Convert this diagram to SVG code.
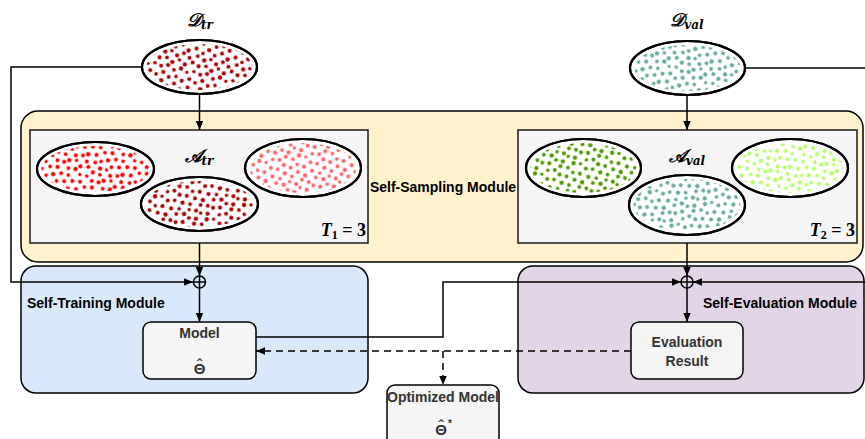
<svg xmlns="http://www.w3.org/2000/svg" xmlns:xlink="http://www.w3.org/1999/xlink" width="865" height="439" viewBox="0 0 865 439">
<style>
.mod{stroke:#000;stroke-width:1.5}
.inner{fill:#f5f5f5;stroke:#1a1a1a;stroke-width:1.5}
.box{fill:#f5f5f5;stroke:#000;stroke-width:1.5}
.lbl{font-family:"Liberation Sans",Arial,sans-serif;font-weight:bold;font-size:14px;fill:#000}
.blbl{font-family:"Liberation Sans",Arial,sans-serif;font-weight:bold;font-size:14px;fill:#333}
.theta{font-family:"Liberation Sans",Arial,sans-serif;font-weight:bold;font-size:15px;fill:#333}
.math{font-family:"DejaVu Serif","Liberation Serif",serif;font-weight:bold;font-style:italic;fill:#000}
.tmath{font-family:"Liberation Serif","DejaVu Serif",serif;font-weight:bold;font-size:18px;fill:#000}
.ell{fill:#fff;stroke:#000;stroke-width:2.2}
.conn{fill:none;stroke:#000;stroke-width:1.5}
.dash{stroke-dasharray:7 5}
</style>
<defs>
<marker id="arr" markerUnits="userSpaceOnUse" markerWidth="10" markerHeight="8" refX="9" refY="3.75" orient="auto">
<path d="M0,0 L9,3.75 L0,7.5 Z" fill="#000"/>
</marker>
<g id="dotset">
<circle cx="2.5" cy="3.1" r="2.1"/><circle cx="9.8" cy="6.4" r="1.8"/><circle cx="15.2" cy="1.8" r="2.2"/><circle cx="21.7" cy="5.9" r="1.9"/><circle cx="28.4" cy="2.3" r="2.0"/><circle cx="35.1" cy="6.8" r="2.2"/>
<circle cx="5.3" cy="10.2" r="1.9"/><circle cx="12.6" cy="12.9" r="2.2"/><circle cx="18.9" cy="10.8" r="1.8"/><circle cx="25" cy="14.1" r="2.1"/><circle cx="31.2" cy="10.5" r="1.9"/><circle cx="37.6" cy="13.7" r="2.0"/>
<circle cx="1.8" cy="17.6" r="2.0"/><circle cx="8.4" cy="19.9" r="2.1"/><circle cx="15.7" cy="18.3" r="1.9"/><circle cx="21.9" cy="21.6" r="2.2"/><circle cx="28.3" cy="18" r="1.8"/><circle cx="34.6" cy="21.2" r="2.1"/>
<circle cx="5.1" cy="26.3" r="1.8"/><circle cx="11.9" cy="27.8" r="2.0"/><circle cx="18.4" cy="25.6" r="2.1"/><circle cx="25.2" cy="28.9" r="1.9"/><circle cx="31.8" cy="26" r="2.2"/><circle cx="38.3" cy="28.4" r="1.7"/>
<circle cx="2.2" cy="34.6" r="2.0"/><circle cx="8.7" cy="36.8" r="1.9"/><circle cx="15.3" cy="33.4" r="2.1"/><circle cx="21.6" cy="37.1" r="2.0"/><circle cx="28.7" cy="34.9" r="1.8"/><circle cx="35.2" cy="37.8" r="2.1"/>
</g>
<pattern id="pDark" width="40" height="40" patternUnits="userSpaceOnUse" patternTransform="rotate(13)"><use xlink:href="#dotset" href="#dotset" fill="#a80000"/></pattern>
<pattern id="pDark2" width="40" height="40" patternUnits="userSpaceOnUse" patternTransform="translate(7,11) rotate(-21)"><use xlink:href="#dotset" href="#dotset" fill="#a80000"/></pattern>
<pattern id="pRed" width="40" height="40" patternUnits="userSpaceOnUse" patternTransform="rotate(31)"><use xlink:href="#dotset" href="#dotset" fill="#ff0000"/></pattern>
<pattern id="pPink" width="40" height="40" patternUnits="userSpaceOnUse" patternTransform="translate(4,9) rotate(-8)"><use xlink:href="#dotset" href="#dotset" fill="#ff6666"/></pattern>
<pattern id="pTeal" width="40" height="40" patternUnits="userSpaceOnUse" patternTransform="rotate(24)"><use xlink:href="#dotset" href="#dotset" fill="#67ab9f"/></pattern>
<pattern id="pTeal2" width="40" height="40" patternUnits="userSpaceOnUse" patternTransform="translate(12,3) rotate(-33)"><use xlink:href="#dotset" href="#dotset" fill="#67ab9f"/></pattern>
<pattern id="pGreen" width="40" height="40" patternUnits="userSpaceOnUse" patternTransform="rotate(-15)"><use xlink:href="#dotset" href="#dotset" fill="#4d9900"/></pattern>
<pattern id="pLime" width="40" height="40" patternUnits="userSpaceOnUse" patternTransform="translate(9,5) rotate(38)"><use xlink:href="#dotset" href="#dotset" fill="#b3ff66"/></pattern>
</defs>

<g id="self-sampling-module">
<rect class="mod" x="21" y="111" width="842" height="151" rx="17" fill="#fff2cc"/>
<text class="lbl" x="443" y="192" text-anchor="middle">Self-Sampling Module</text>
</g>

<g id="self-training-module">
<rect class="mod" x="21" y="266" width="347" height="127" rx="15" fill="#dae8fc"/>
<text class="lbl" x="27" y="308">Self-Training Module</text>
</g>

<g id="self-evaluation-module">
<rect class="mod" x="518" y="266" width="346" height="127" rx="15" fill="#e1d5e7"/>
<text class="lbl" x="857" y="308" text-anchor="end">Self-Evaluation Module</text>
</g>

<g id="d-tr">
<text class="math" x="200" y="26" text-anchor="middle"><tspan font-size="18">𝒟</tspan><tspan font-size="12" dy="3">tr</tspan></text>
<ellipse class="ell" cx="199.5" cy="67" rx="57.5" ry="27"/>
<ellipse cx="199.5" cy="67" rx="53" ry="23" fill="url(#pDark)"/>
<ellipse cx="199.5" cy="67" rx="57.5" ry="27" fill="none" stroke="#000" stroke-width="2.2"/>
</g>

<g id="d-val">
<text class="math" x="687" y="26" text-anchor="middle"><tspan font-size="18">𝒟</tspan><tspan font-size="12" dy="3">val</tspan></text>
<ellipse class="ell" cx="687.5" cy="68" rx="57.5" ry="27"/>
<ellipse cx="687.5" cy="68" rx="53" ry="23" fill="url(#pTeal)"/>
<ellipse cx="687.5" cy="68" rx="57.5" ry="27" fill="none" stroke="#000" stroke-width="2.2"/>
</g>

<g id="a-tr">
<rect class="inner" x="30" y="130" width="338" height="113"/>
<text class="math" x="199" y="162" text-anchor="middle"><tspan font-size="18">𝒜</tspan><tspan font-size="12" dy="3">tr</tspan></text>
<ellipse class="ell" cx="95.5" cy="169" rx="58.5" ry="27"/>
<ellipse cx="95.5" cy="169" rx="54" ry="23" fill="url(#pRed)"/>
<ellipse cx="95.5" cy="169" rx="58.5" ry="27" fill="none" stroke="#000" stroke-width="2.2"/>
<ellipse class="ell" cx="303" cy="168" rx="58" ry="29"/>
<ellipse cx="303" cy="168" rx="53.5" ry="25" fill="url(#pPink)"/>
<ellipse cx="303" cy="168" rx="58" ry="29" fill="none" stroke="#000" stroke-width="2.2"/>
<ellipse class="ell" cx="199.5" cy="204" rx="58.5" ry="27"/>
<ellipse cx="199.5" cy="204" rx="54" ry="23" fill="url(#pDark2)"/>
<ellipse cx="199.5" cy="204" rx="58.5" ry="27" fill="none" stroke="#000" stroke-width="2.2"/>
<text class="tmath" x="366" y="236" text-anchor="end"><tspan font-style="italic">T</tspan><tspan font-size="12" dy="3">1</tspan><tspan dy="-3"> = 3</tspan></text>
</g>

<g id="a-val">
<rect class="inner" x="518" y="130" width="339" height="113"/>
<text class="math" x="687" y="162" text-anchor="middle"><tspan font-size="18">𝒜</tspan><tspan font-size="12" dy="3">val</tspan></text>
<ellipse class="ell" cx="583.5" cy="168" rx="57.5" ry="29"/>
<ellipse cx="583.5" cy="168" rx="53" ry="25" fill="url(#pGreen)"/>
<ellipse cx="583.5" cy="168" rx="57.5" ry="29" fill="none" stroke="#000" stroke-width="2.2"/>
<ellipse class="ell" cx="790" cy="168" rx="58" ry="29"/>
<ellipse cx="790" cy="168" rx="53.5" ry="25" fill="url(#pLime)"/>
<ellipse cx="790" cy="168" rx="58" ry="29" fill="none" stroke="#000" stroke-width="2.2"/>
<ellipse class="ell" cx="687" cy="205" rx="58" ry="30"/>
<ellipse cx="687" cy="205" rx="53.5" ry="26" fill="url(#pTeal2)"/>
<ellipse cx="687" cy="205" rx="58" ry="30" fill="none" stroke="#000" stroke-width="2.2"/>
<text class="tmath" x="855" y="236" text-anchor="end"><tspan font-style="italic">T</tspan><tspan font-size="12" dy="3">2</tspan><tspan dy="-3"> = 3</tspan></text>
</g>

<g id="connectors">
<path class="conn" d="M142,67 H11 V282 H193" marker-end="url(#arr)"/>
<path class="conn" d="M199.5,94 V130" marker-end="url(#arr)"/>
<path class="conn" d="M199.5,243 V276" marker-end="url(#arr)"/>
<path class="conn" d="M199.5,288 V322" marker-end="url(#arr)"/>
<path class="conn" d="M745,68 H872 V282 H693" marker-end="url(#arr)"/>
<path class="conn" d="M687,95 V130" marker-end="url(#arr)"/>
<path class="conn" d="M687,243 V276" marker-end="url(#arr)"/>
<path class="conn" d="M687,288 V322" marker-end="url(#arr)"/>
<path class="conn" d="M256,337 H443 V282 H681" marker-end="url(#arr)"/>
<path class="conn dash" d="M631,351 H256" marker-end="url(#arr)"/>
<path class="conn dash" d="M443,351 V385" marker-end="url(#arr)"/>
<g id="oplus-train">
<circle cx="199.5" cy="282" r="6" fill="none" stroke="#000" stroke-width="1.5"/>
<path d="M193.5,282 H205.5 M199.5,276 V288" stroke="#000" stroke-width="1.5"/>
</g>
<g id="oplus-eval">
<circle cx="687" cy="282" r="6" fill="none" stroke="#000" stroke-width="1.5"/>
<path d="M681,282 H693 M687,276 V288" stroke="#000" stroke-width="1.5"/>
</g>
</g>

<g id="model">
<rect class="box" x="143" y="322" width="113" height="57" rx="8"/>
<text class="blbl" x="199.5" y="338" text-anchor="middle">Model</text>
<text class="theta" y="374"><tspan x="193.7">Θ</tspan><tspan x="197" y="370">ˆ</tspan></text>
</g>

<g id="evaluation-result">
<rect class="box" x="631" y="322" width="112" height="57" rx="8"/>
<text class="blbl" x="687" y="347" text-anchor="middle">Evaluation</text>
<text class="blbl" x="687" y="366" text-anchor="middle">Result</text>
</g>

<g id="optimized-model">
<rect class="box" x="387" y="385" width="112" height="62" rx="8"/>
<text class="blbl" x="443" y="402" text-anchor="middle" font-size="13">Optimized Model</text>
<text class="theta" y="435"><tspan x="435.2">Θ</tspan><tspan x="438.5" y="431">ˆ</tspan><tspan x="448" y="427" font-size="10">*</tspan></text>
</g>
</svg>
